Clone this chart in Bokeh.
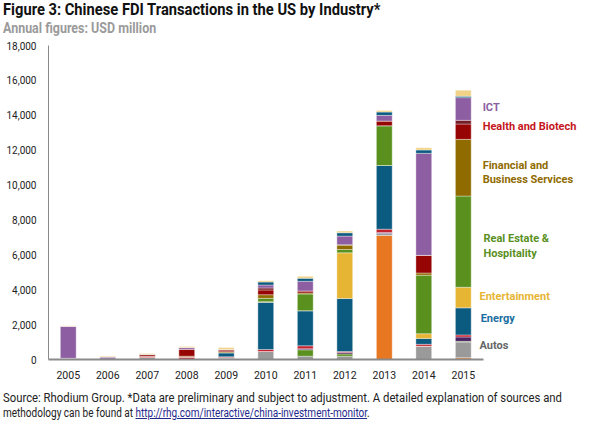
from bokeh.plotting import figure
from bokeh.models import (ColumnDataSource, Range1d, FixedTicker,
                          NumeralTickFormatter, Label, Div)
from bokeh.layouts import column
from bokeh.embed import file_html
from bokeh.resources import INLINE

years = ["2005", "2006", "2007", "2008", "2009", "2010", "2011", "2012", "2013", "2014", "2015"]

# USD million, stacked bottom -> top
agri_food     = [70, 0, 0, 0, 0, 0, 0, 0, 7110, 0, 100]
autos         = [0, 30, 120, 0, 80, 460, 190, 190, 110, 760, 900]
materials     = [0, 0, 0, 0, 0, 0, 365, 130, 0, 0, 40]
aviation      = [0, 0, 0, 0, 40, 0, 60, 75, 60, 0, 250]
electronics   = [0, 0, 50, 150, 40, 115, 170, 60, 190, 110, 120]
energy        = [0, 0, 0, 0, 230, 2700, 2010, 3040, 3650, 340, 1550]
entertainment = [0, 0, 0, 0, 0, 40, 0, 2620, 0, 270, 1180]
real_estate   = [0, 0, 0, 0, 0, 190, 960, 190, 2280, 3350, 5230]
financial     = [0, 0, 0, 40, 60, 210, 60, 270, 0, 130, 3250]
health        = [0, 0, 110, 400, 100, 270, 115, 0, 270, 1010, 880]
consumer      = [0, 0, 0, 0, 0, 115, 0, 0, 0, 0, 210]
ict           = [1830, 110, 0, 100, 30, 170, 555, 500, 325, 5850, 1300]
transport     = [0, 0, 20, 0, 0, 170, 170, 190, 190, 190, 80]
other         = [40, 50, 40, 60, 110, 75, 115, 95, 95, 130, 350]

series_names = ["agri_food", "autos", "materials", "aviation", "electronics", "energy",
                "entertainment", "real_estate", "financial", "health", "consumer", "ict",
                "transport", "other"]
series_colors = ["#E87722", "#9A9A9A", "#5A901E", "#4A2262", "#C4222E", "#0B5A80",
                 "#E6B533", "#5A901E", "#906B00", "#960404", "#741C28", "#8E5EA2",
                 "#0B5A80", "#F0D387"]

label_texts = ["ICT", "Health and Biotech", "Financial and", "Business Services",
               "Real Estate &", "Hospitality", "Entertainment", "Energy", "Autos"]

x_pos = list(range(len(years)))

source = ColumnDataSource(data=dict(
    x=x_pos, year=years, agri_food=agri_food, autos=autos, materials=materials,
    aviation=aviation, electronics=electronics, energy=energy, entertainment=entertainment,
    real_estate=real_estate, financial=financial, health=health, consumer=consumer,
    ict=ict, transport=transport, other=other))

FONT = "Roboto"

p = figure(width=590, height=351, x_range=Range1d(-0.5, 13.22), y_range=Range1d(0, 18000),
           output_backend="svg", toolbar_location=None,
           min_border_left=48, min_border_right=0, min_border_top=7, min_border_bottom=30,
           margin=(0, 0, 0, 0))
p.outline_line_color = None
p.background_fill_color = "white"
p.border_fill_color = "white"

p.vbar_stack(series_names, x="x", width=0.4, color=series_colors, source=source,
             line_color="white", line_alpha=0.45, line_width=0.8)

p.xgrid.visible = False
p.ygrid.visible = False

p.yaxis.ticker = FixedTicker(ticks=list(range(0, 18001, 2000)))
p.yaxis.formatter = NumeralTickFormatter(format="0,0")
p.xaxis.ticker = FixedTicker(ticks=x_pos)
p.xaxis.major_label_overrides = {i: y for i, y in zip(x_pos, years)}
p.xaxis.bounds = (-0.5, len(years) - 0.5)
for ax in (p.xaxis[0], p.yaxis[0]):
    ax.major_tick_line_color = None
    ax.minor_tick_line_color = None
    ax.major_tick_out = 0
    ax.major_tick_in = 0
    ax.minor_tick_out = 0
    ax.minor_tick_in = 0
    ax.axis_line_color = "#8A8A8A"
    ax.major_label_text_font = FONT
    ax.major_label_text_font_size = "10.5px"
    ax.major_label_text_color = "#222222"
p.yaxis.major_label_text_font_size = "10px"
p.xaxis.axis_line_width = 2
p.yaxis.axis_line_width = 1
p.yaxis.major_label_standoff = 12
p.xaxis.major_label_standoff = 11

# Inline legend labels (data coordinates)
legend_specs = [
    (label_texts[0], 10.49, 14418, "#8E5EA2"),
    (label_texts[1], 10.49, 13374, "#C4161C"),
    (label_texts[2], 10.49, 11121, "#906B00"),
    (label_texts[3], 10.49, 10319, "#906B00"),
    (label_texts[4], 10.51, 6937, "#5A901E"),
    (label_texts[5], 10.51, 6077, "#5A901E"),
    (label_texts[6], 10.41, 3612, "#E6B533"),
    (label_texts[7], 10.44, 2350, "#1A6EA0"),
    (label_texts[8], 10.41, 803, "#666666"),
]
for txt, lx, ly, col in legend_specs:
    p.add_layout(Label(x=lx, y=ly, text=txt,
                       text_font=FONT, text_font_size="11px", text_font_style="bold",
                       text_color=col, text_baseline="middle"))

title_html = (
    '<div style="position:relative;width:590px;height:38px;overflow:visible;">'
    '<div style="position:absolute;left:3px;top:1px;font-family:Roboto;font-weight:700;'
    'font-size:16px;line-height:18px;color:#111;white-space:nowrap;'
    'transform:scaleX(0.92);transform-origin:left top;">'
    'Figure 3: Chinese FDI Transactions in the US by Industry*</div>'
    '<div style="position:absolute;left:3px;top:20px;font-family:Roboto;font-weight:700;'
    'font-size:14px;line-height:16px;color:#9A9A9A;white-space:nowrap;'
    'transform:scaleX(0.89);transform-origin:left top;">'
    'Annual figures: USD million</div></div>'
)
footer_html = (
    '<div style="position:relative;width:590px;height:37px;overflow:visible;">'
    '<div style="position:absolute;left:3px;top:1px;font-family:Roboto;font-weight:400;'
    'font-size:12.5px;line-height:15px;color:#222;white-space:nowrap;'
    'transform:scaleX(0.905);transform-origin:left top;">'
    'Source: Rhodium Group. *Data are preliminary and subject to adjustment. '
    'A detailed explanation of sources and</div>'
    '<div style="position:absolute;left:3px;top:16px;font-family:Roboto;font-weight:400;'
    'font-size:12.5px;line-height:15px;color:#222;white-space:nowrap;'
    'transform:scaleX(0.8);transform-origin:left top;">'
    'methodology can be found at '
    '<span style="color:#1F2A8C;text-decoration:underline;">'
    'http://rhg.com/interactive/china-investment-monitor</span>.</div></div>'
)

top_div = Div(text=title_html, width=590, height=38, margin=(0, 0, 0, 0))
bottom_div = Div(text=footer_html, width=590, height=37, margin=(0, 0, 0, 0))

layout = column(top_div, p, bottom_div, spacing=0, margin=(0, 0, 0, 0))

open("out.html", "w").write(file_html(layout, INLINE))
